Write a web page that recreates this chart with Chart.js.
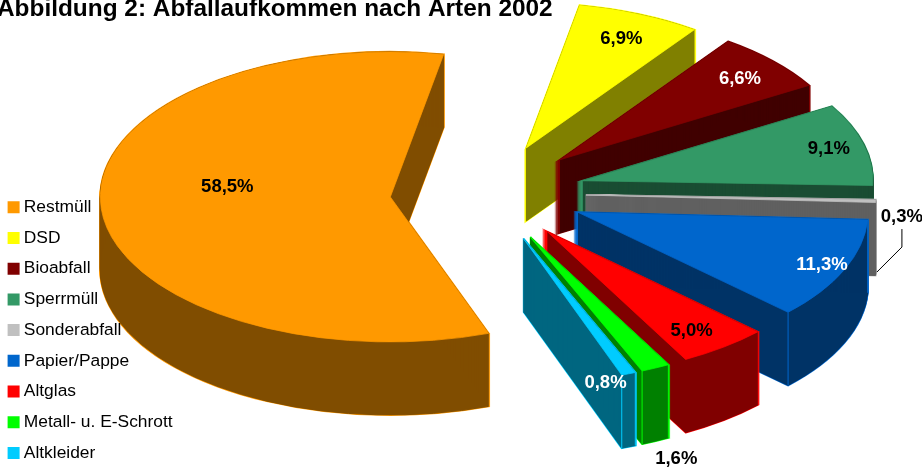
<!DOCTYPE html>
<html lang="de">
<head>
<meta charset="utf-8">
<title>Abfallaufkommen nach Arten 2002</title>
<style>
  html, body { margin: 0; padding: 0; background: #fff; overflow: hidden; }
  canvas { display: block; }
</style>
<script src="https://cdn.jsdelivr.net/npm/chart.js@4/dist/chart.umd.js"></script>
</head>
<body>
<canvas id="pie" width="922" height="467"></canvas>
<script>
"use strict";

// ── Data ───────────────────────────────────────────────────────────────────
const CATEGORIES = ["Restmüll", "DSD", "Bioabfall", "Sperrmüll", "Sonderabfall",
                    "Papier/Pappe", "Altglas", "Metall- u. E-Schrott", "Altkleider"];
const SHARES = [58.5, 6.9, 6.6, 9.1, 0.3, 11.3, 5.0, 1.6, 0.8];
const SHARE_LABELS = ["58,5%", "6,9%", "6,6%", "9,1%", "0,3%", "11,3%", "5,0%", "1,6%", "0,8%"];

// ── Styles ─────────────────────────────────────────────────────────────────
const TOP_COLORS  = ["#ff9900", "#ffff00", "#800000", "#339966", "#c0c0c0",
                     "#0066cc", "#ff0000", "#00ff00", "#00ccff"];
const WALL_COLORS = ["#804d00", "#808000", "#400000", "#1a4d33", "#606060",
                     "#003366", "#800000", "#008000", "#006680"];
const LABEL_COLORS = ["#000", "#000", "#fff", "#000", "#000", "#fff", "#000", "#000", "#fff"];
// slices whose outer corners show a bright vertical edge
const CORNER_EDGES = [false, false, false, false, false, true, false, true, true];
// label centre, relative to the slice tip on screen
const LABEL_DX = [-163,  95, 180, 246, 316, 244, 144, 146,  82];
const LABEL_DY = [ -10, -109, -81, -32,  22,  53,  99, 222, 144];

const PIE_X = 488;
const PIE_Y = 193;
const PIE_RADIUS = 290;
const EXPLODE = 98;
const TILT = 0.5;
const DEPTH = 73;
const SONDER = 4;

// ── 3D pie drawing ─────────────────────────────────────────────────────────
function squash(ctx, drop) {
  ctx.translate(0, PIE_Y + drop);
  ctx.scale(1, TILT);
  ctx.translate(0, -PIE_Y);
}

function slicePath(ctx, arc, drop) {
  ctx.save();
  squash(ctx, drop);
  ctx.beginPath();
  ctx.moveTo(arc.x, arc.y);
  ctx.arc(arc.x, arc.y, arc.outerRadius, arc.startAngle, arc.endAngle);
  ctx.closePath();
  ctx.restore();
}

function tipOf(arc) {
  return { x: arc.x, y: PIE_Y + (arc.y - PIE_Y) * TILT };
}

function drawWall(ctx, arc, i) {
  ctx.strokeStyle = TOP_COLORS[i];
  ctx.lineWidth = 2;
  for (let d = 0; d <= DEPTH; d++) {
    slicePath(ctx, arc, d);
    ctx.stroke();
  }
  ctx.fillStyle = WALL_COLORS[i];
  ctx.strokeStyle = WALL_COLORS[i];
  ctx.lineWidth = 1;
  for (let d = 0; d <= DEPTH; d++) {
    slicePath(ctx, arc, d);
    ctx.fill();
    ctx.stroke();
  }
  if (!CORNER_EDGES[i]) return;
  ctx.strokeStyle = TOP_COLORS[i];
  [arc.startAngle, arc.endAngle].forEach((a) => {
    const x = arc.x + Math.cos(a) * arc.outerRadius;
    const y = PIE_Y + (arc.y + Math.sin(a) * arc.outerRadius - PIE_Y) * TILT;
    ctx.beginPath();
    ctx.moveTo(x, y);
    ctx.lineTo(x, y + DEPTH);
    ctx.stroke();
  });
}

const pie3d = {
  id: "pie3d",
  beforeLayout(chart) {
    // legend sits above the slices ("Sonderabfall" overlaps the orange wall)
    const legend = chart.legend;
    legend._layers = () => [{ z: 1, draw: (area) => legend.draw(area) }];
  },
  afterLayout(chart) {
    chart.legend.left = -1.2;
    chart.legend.top = 185.3;
    chart.legend.bottom = 520;
    chart.titleBlock.left = -3;
    chart.titleBlock.top = -5;
  },
  beforeDatasetDraw(chart, args) {
    const ctx = chart.ctx;
    args.meta.data.forEach((arc, i) => {
      const mid = (arc.startAngle + arc.endAngle) / 2;
      arc.x = PIE_X + Math.cos(mid) * EXPLODE;
      arc.y = PIE_Y + Math.sin(mid) * EXPLODE;
      drawWall(ctx, arc, i);
      ctx.save();
      squash(ctx, 0);
      arc.draw(ctx);
      ctx.restore();
    });
    return false;
  },
  afterDatasetsDraw(chart) {
    const ctx = chart.ctx;
    const arcs = chart.getDatasetMeta(0).data;
    ctx.font = "bold 18.5px 'Liberation Sans', Arial, sans-serif";
    ctx.textAlign = "center";
    ctx.textBaseline = "middle";
    arcs.forEach((arc, i) => {
      const tip = tipOf(arc);
      ctx.fillStyle = LABEL_COLORS[i];
      ctx.fillText(SHARE_LABELS[i], tip.x + LABEL_DX[i], tip.y + LABEL_DY[i]);
    });
    // leader line of the smallest slice
    const tip = tipOf(arcs[SONDER]);
    const lx = tip.x + LABEL_DX[SONDER];
    const ly = tip.y + LABEL_DY[SONDER];
    ctx.strokeStyle = "#000";
    ctx.lineWidth = 1;
    ctx.beginPath();
    ctx.moveTo(lx, ly + 12);
    ctx.lineTo(lx, ly + 30);
    ctx.lineTo(lx - 25, ly + 55);
    ctx.stroke();
  },
};

// ── Chart ──────────────────────────────────────────────────────────────────
new Chart(document.getElementById("pie").getContext("2d"), {
  type: "pie",
  data: {
    labels: CATEGORIES,
    datasets: [{
      data: SHARES,
      backgroundColor: TOP_COLORS,
      borderColor: TOP_COLORS,
      borderWidth: 1,
    }],
  },
  options: {
    responsive: false,
    animation: false,
    radius: PIE_RADIUS,
    rotation: 160.2,
    plugins: {
      tooltip: { enabled: false },
      title: {
        display: true,
        text: "Abbildung 2: Abfallaufkommen nach Arten 2002",
        align: "start",
        color: "#000",
        padding: 0,
        font: { family: "'Liberation Sans', Arial, sans-serif", size: 24.4, weight: "bold" },
      },
      legend: {
        position: "chartArea",
        align: "start",
        labels: {
          color: "#000",
          // small box with a wide stroke: keeps the text close to the 12px swatch
          boxWidth: 3,
          boxHeight: 3,
          padding: 13.3,
          font: { family: "'Liberation Sans', Arial, sans-serif", size: 17.4 },
          generateLabels: () => CATEGORIES.map((text, i) => ({
            text,
            index: i,
            fontColor: "#000",
            fillStyle: TOP_COLORS[i],
            strokeStyle: TOP_COLORS[i],
            lineWidth: 9,
          })),
        },
      },
    },
  },
  plugins: [pie3d],
});
</script>
</body>
</html>
